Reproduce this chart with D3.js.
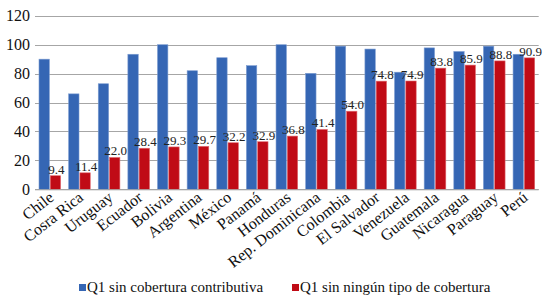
<!DOCTYPE html>
<html><head><meta charset="utf-8">
<script src="https://cdn.jsdelivr.net/npm/d3@7/dist/d3.min.js"></script>
<style>body{margin:0;background:#fff}svg{display:block}svg text{font-family:"Liberation Serif","Times New Roman","DejaVu Serif",serif !important}</style>
</head><body>
<svg id="c" width="556" height="308"></svg>
<script>
const categories = ["Chile","Cosra Rica","Uruguay","Ecuador","Bolivia","Argentina","México","Panamá","Honduras","Rep. Dominicana","Colombia","El Salvador","Venezuela","Guatemala","Nicaragua","Paraguay","Perú"];
const contributiva = [90, 66, 73, 93.4, 100, 82, 91, 85.5, 100, 80.2, 99, 97, 81, 97.8, 95.3, 99, 93.4];
const ningunTipo = [9.4, 11.4, 22.0, 28.4, 29.3, 29.7, 32.2, 32.9, 36.8, 41.4, 54.0, 74.8, 74.9, 83.8, 85.9, 88.8, 90.9];
const yTicks = [0, 20, 40, 60, 80, 100, 120];
const seriesNames = ["Q1 sin cobertura contributiva", "Q1 sin ningún tipo de cobertura"];
const colors = ["#3566b4", "#c00b16"];

const svg = d3.select("#c");
const m = {l: 35, r: 17.3, t: 15.8, b: 118.7};
const W = 556, H = 308;
const x = d3.scaleBand().domain(categories).range([m.l, W - m.r]).paddingInner(0).paddingOuter(0);
const y = d3.scaleLinear().domain([0, 120]).range([H - m.b, m.t]);
const sub = d3.scaleBand().domain([0, 1]).range([4, x.bandwidth() - 4]).paddingInner(0.08);

// grid
svg.append("g").selectAll("line").data(yTicks).join("line")
  .attr("x1", m.l).attr("x2", W - m.r)
  .attr("y1", d => Math.round(y(d)) + 0.5).attr("y2", d => Math.round(y(d)) + 0.5)
  .attr("stroke", "#a6a6a6").attr("stroke-width", 1);

// y labels
const yAxis = svg.append("g").attr("transform", `translate(${m.l - 5},0)`)
  .call(d3.axisLeft(y).tickValues(yTicks).tickSize(0).tickPadding(0));
yAxis.select(".domain").remove();
yAxis.selectAll("text").attr("font-size", 16).attr("fill", "#111");

const data = categories.map((c, i) => ({c, v: [contributiva[i], ningunTipo[i]]}));

const g = svg.append("g");
[0, 1].forEach(s => {
  g.selectAll(".b" + s).data(data).join("rect")
    .attr("x", d => x(d.c) + sub(s))
    .attr("width", sub.bandwidth())
    .attr("y", d => y(d.v[s]))
    .attr("height", d => y(0) - y(d.v[s]))
    .attr("fill", colors[s])
    .attr("stroke", s === 0 ? "#7b9bd0" : "#e06a70").attr("stroke-width", 0.6);
});

// value labels
g.selectAll(".lbl").data(data).join("text")
  .attr("x", d => x(d.c) + sub(1) + sub.bandwidth() / 2 + 1)
  .attr("y", d => y(d.v[1]) - 2)
  .attr("text-anchor", "middle")
  .attr("font-size", 13).attr("fill", "#222")
  .text(d => d.v[1].toFixed(1));

// x axis
const xAxis = svg.append("g").attr("transform", `translate(0,${y(0)})`)
  .call(d3.axisBottom(x).tickSize(0).tickPadding(0));
xAxis.select(".domain").attr("stroke", "#a6a6a6").attr("d", `M${m.l},0.5H${W - m.r}`);
xAxis.selectAll("text")
  .attr("font-size", 16).attr("fill", "#111")
  .attr("text-anchor", "end")
  .attr("dy", null)
  .attr("transform", "translate(5,10) rotate(-38)");

// legend
const leg = svg.append("g");
const legX = [79, 292];
seriesNames.forEach((n, i) => {
  leg.append("rect").attr("x", legX[i]).attr("y", 284).attr("width", 7).attr("height", 7).attr("fill", colors[i]);
  leg.append("text").attr("x", legX[i] + 8).attr("y", 292)
    .attr("font-size", 15).attr("fill", "#111").text(n);
});
</script>
</body></html>
